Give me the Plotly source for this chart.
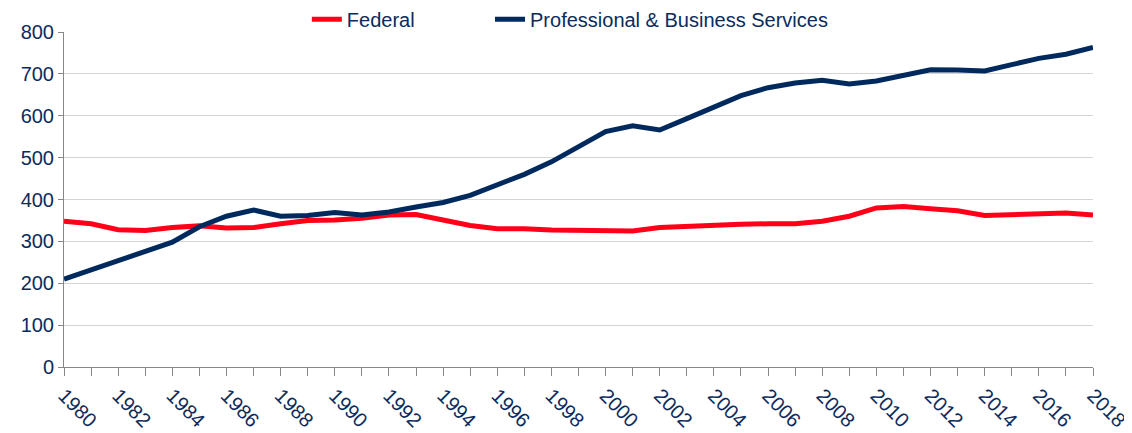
import plotly.graph_objects as go

years = list(range(1980, 2019))
federal = [348, 342, 328, 326, 333, 337, 332, 333, 342, 350, 351, 355, 363, 364, 351, 338,
           330, 330, 327, 326, 326, 325, 333, 336, 340, 341, 342, 342, 348, 360, 380, 383,
           378, 373, 362, 364, 368, 368, 363]
pbs = [210, 232, 254, 276, 298, 335, 360, 375, 360, 362, 369, 363, 370, 382, 393, 410,
       435, 460, 490, 527, 562, 576, 566, 593, 621, 648, 667, 678, 685, 676, 683, 697,
       710, 709, 707, 722, 737, 747, 763]
tick_labels = [str(y) for y in range(1980, 2019, 2)]

NAVY = "#0b2b5c"
FONT = "Liberation Sans Narrow, Arial Narrow, Liberation Sans, Arial, sans-serif"

fig = go.Figure()
fig.add_trace(go.Scatter(x=years, y=federal, mode="lines", name="Federal",
                         line=dict(color="#ff0018", width=5), legend="legend"))
fig.add_trace(go.Scatter(x=years, y=pbs, mode="lines", name="Professional & Business Services",
                         line=dict(color="#002a5e", width=5), legend="legend2"))

leg_common = dict(orientation="h", y=0.98, yanchor="bottom", xanchor="left",
                  font=dict(size=20, color=NAVY, family=FONT), itemwidth=30,
                  bgcolor="rgba(0,0,0,0)")

# page has an 8px body margin: figure is offset by (8, 8)
fig.update_layout(
    width=1124, height=425,
    margin=dict(l=56, r=39, t=24, b=66, autoexpand=False),
    paper_bgcolor="white", plot_bgcolor="white",
    font=dict(family=FONT, size=20, color=NAVY),
    legend=dict(x=0.236, **leg_common),
    legend2=dict(x=0.414, **leg_common),
    showlegend=True,
)
fig.update_xaxes(
    range=[1980, 2018], tickmode="array", tickvals=list(range(1980, 2019, 2)),
    ticktext=tick_labels, tickangle=45, showgrid=False,
    showline=True, linecolor="#888888", linewidth=1,
    ticks="outside", ticklen=8, tickcolor="#888888",
    minor=dict(dtick=1, tick0=1980, ticks="outside", ticklen=8, tickcolor="#888888"),
    tickfont=dict(size=20, color=NAVY, family=FONT), zeroline=False,
)
fig.update_yaxes(
    range=[0, 800], dtick=100, showgrid=True, gridcolor="#d4d4d4", gridwidth=1,
    showline=True, linecolor="#888888", linewidth=1,
    ticks="outside", ticklen=5, tickcolor="#888888",
    tickfont=dict(size=20, color=NAVY, family=FONT), zeroline=False,
)

fig.write_html("out.html")
